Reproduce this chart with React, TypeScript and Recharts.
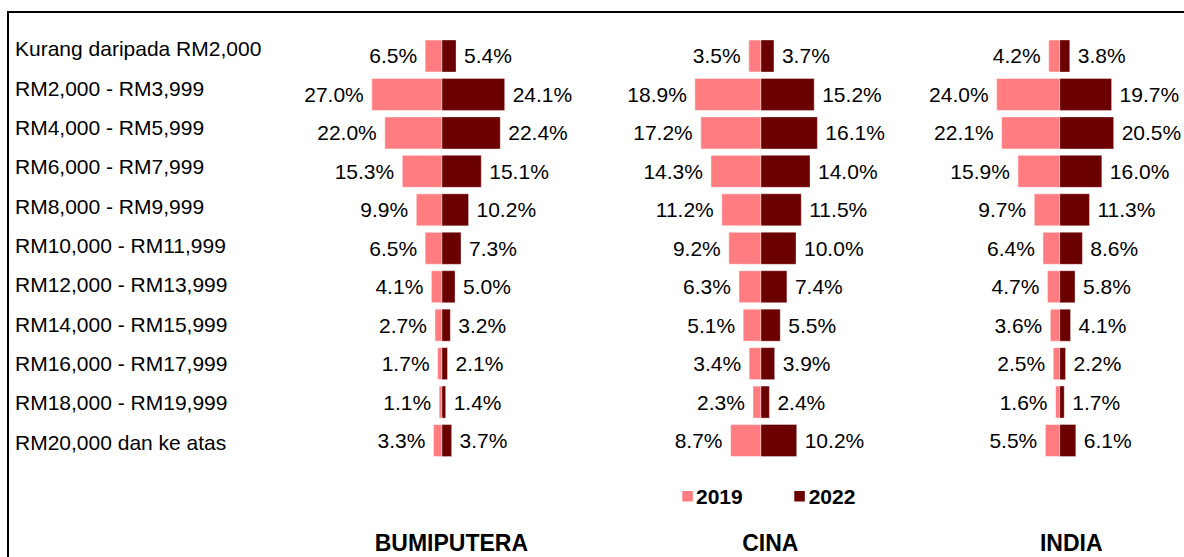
import { BarChart, Bar, XAxis, YAxis, LabelList } from 'recharts';

const categories = [
  'Kurang daripada RM2,000',
  'RM2,000 - RM3,999',
  'RM4,000 - RM5,999',
  'RM6,000 - RM7,999',
  'RM8,000 - RM9,999',
  'RM10,000 - RM11,999',
  'RM12,000 - RM13,999',
  'RM14,000 - RM15,999',
  'RM16,000 - RM17,999',
  'RM18,000 - RM19,999',
  'RM20,000 dan ke atas',
];

const bumiputera2019 = [6.5, 27.0, 22.0, 15.3, 9.9, 6.5, 4.1, 2.7, 1.7, 1.1, 3.3];
const bumiputera2022 = [5.4, 24.1, 22.4, 15.1, 10.2, 7.3, 5.0, 3.2, 2.1, 1.4, 3.7];
const cina2019 = [3.5, 18.9, 17.2, 14.3, 11.2, 9.2, 6.3, 5.1, 3.4, 2.3, 8.7];
const cina2022 = [3.7, 15.2, 16.1, 14.0, 11.5, 10.0, 7.4, 5.5, 3.9, 2.4, 10.2];
const india2019 = [4.2, 24.0, 22.1, 15.9, 9.7, 6.4, 4.7, 3.6, 2.5, 1.6, 5.5];
const india2022 = [3.8, 19.7, 20.5, 16.0, 11.3, 8.6, 5.8, 4.1, 2.2, 1.7, 6.1];

const panelTitles = ['BUMIPUTERA', 'CINA', 'INDIA'];
const legendLabels = ['2019', '2022'];

const COLOR_2019 = '#FF7C80';
const COLOR_2022 = '#6B0000';
const FONT = '"Liberation Sans", Arial, Helvetica, sans-serif';
const H = 557;

function buildRows(a: number[], b: number[]) {
  return categories.map((cat, i) => ({
    cat,
    neg2019: -a[i],
    pos2022: b[i],
    v2019: a[i],
    v2022: b[i],
  }));
}

function valueLabel(side: 'left' | 'right') {
  return (props: any) => {
    const x = Number(props.x);
    const w = Number(props.width);
    const y = Number(props.y);
    const h = Number(props.height);
    const lo = Math.min(x, x + w);
    const hi = Math.max(x, x + w);
    return (
      <text
        x={side === 'left' ? lo - 8 : hi + 8}
        y={y + h / 2}
        dy="0.355em"
        textAnchor={side === 'left' ? 'end' : 'start'}
        fontSize={21}
        fontFamily={FONT}
        fill="#000"
      >
        {Number(props.value).toFixed(1)}%
      </text>
    );
  };
}

function CategoryTick(props: any) {
  return (
    <text x={15} y={props.y} dy="0.355em" textAnchor="start" fontSize={21} fontFamily={FONT} fill="#000">
      {props.payload.value}
    </text>
  );
}

interface PanelProps {
  rows: ReturnType<typeof buildRows>;
  cx: number; // zero line
  k: number; // px per percent
  range: number;
}

function Panel({ rows, cx, k, range }: PanelProps) {
  const pad = 110;
  const half = range * k;
  return (
    <div style={{ position: 'absolute', left: cx - half - pad, top: 0 }}>
      <BarChart
        width={2 * half + 2 * pad}
        height={H}
        data={rows}
        layout="vertical"
        stackOffset="sign"
        margin={{ top: 37, bottom: 97, left: pad, right: pad }}
      >
        <XAxis type="number" domain={[-range, range]} hide allowDataOverflow />
        <YAxis type="category" dataKey="cat" hide />
        <Bar
          dataKey="neg2019"
          stackId="s"
          fill={COLOR_2019}
          stroke="rgba(255,255,255,0.5)"
          barSize={32}
          isAnimationActive={false}
        >
          <LabelList dataKey="v2019" content={valueLabel('left')} />
        </Bar>
        <Bar
          dataKey="pos2022"
          stackId="s"
          fill={COLOR_2022}
          stroke="rgba(255,255,255,0.35)"
          barSize={32}
          isAnimationActive={false}
        >
          <LabelList dataKey="v2022" content={valueLabel('right')} />
        </Bar>
      </BarChart>
    </div>
  );
}

export default function App() {
  const labelRows = categories.map((cat) => ({ cat }));
  const panels = [
    { rows: buildRows(bumiputera2019, bumiputera2022), cx: 441.7, k: 2.6, range: 30, titleX: 451.4 },
    { rows: buildRows(cina2019, cina2022), cx: 761, k: 3.5, range: 20, titleX: 770.3 },
    { rows: buildRows(india2019, india2022), cx: 1059.3, k: 2.63, range: 25, titleX: 1071.3 },
  ];

  return (
    <div
      style={{
        position: 'fixed',
        left: 0,
        top: 0,
        width: 1184,
        height: H,
        overflow: 'hidden',
        background: '#fff',
        fontFamily: FONT,
      }}
    >
      <div
        style={{
          position: 'absolute',
          left: 7,
          top: 11,
          width: 1400,
          height: 800,
          border: '2px solid #000',
          boxSizing: 'border-box',
        }}
      />

      <div style={{ position: 'absolute', left: 0, top: 0 }}>
        <BarChart
          width={310}
          height={H}
          data={labelRows}
          layout="vertical"
          margin={{ top: 29, bottom: 95, left: 0, right: 0 }}
        >
          <XAxis type="number" domain={[0, 1]} hide />
          <YAxis
            type="category"
            dataKey="cat"
            width={300}
            axisLine={false}
            tickLine={false}
            interval={0}
            tick={<CategoryTick />}
          />
        </BarChart>
      </div>

      {panels.map((p, i) => (
        <Panel key={i} rows={p.rows} cx={p.cx} k={p.k} range={p.range} />
      ))}

      <svg
        width={1184}
        height={H}
        style={{ position: 'absolute', left: 0, top: 0, pointerEvents: 'none' }}
      >
        {panels.map((p, i) => (
          <text
            key={i}
            x={p.titleX}
            y={550.5}
            textAnchor="middle"
            fontSize={23}
            fontWeight="bold"
            fontFamily={FONT}
            fill="#000"
          >
            {panelTitles[i]}
          </text>
        ))}
        <rect x={682.3} y={491} width={10.5} height={10.5} fill={COLOR_2019} />
        <text x={696} y={504.3} fontSize={21} fontWeight="bold" fontFamily={FONT} fill="#000">
          {legendLabels[0]}
        </text>
        <rect x={794.3} y={491} width={10.5} height={10.5} fill={COLOR_2022} />
        <text x={808.7} y={504.3} fontSize={21} fontWeight="bold" fontFamily={FONT} fill="#000">
          {legendLabels[1]}
        </text>
      </svg>
    </div>
  );
}
